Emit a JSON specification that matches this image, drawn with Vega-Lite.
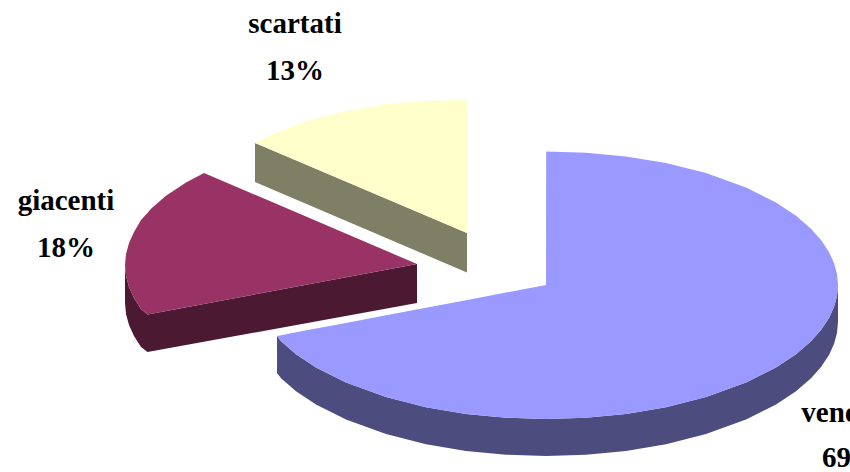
{"$schema":"https://vega.github.io/schema/vega-lite/v6.json","width":850,"height":472,"padding":0,"autosize":{"type":"none"},"background":"white","view":{"stroke":null},"datasets":{"shapes":[
{"part":"venduti lato","x":277,"y":336,"y2":373},{"part":"venduti lato","x":281,"y":341.3,"y2":378.3},{"part":"venduti lato","x":296,"y":354.2,"y2":391.2},{"part":"venduti lato","x":316,"y":367.6,"y2":404.6},{"part":"venduti lato","x":346,"y":382.6,"y2":419.6},{"part":"venduti lato","x":386,"y":397.1,"y2":434.1},{"part":"venduti lato","x":426,"y":407.2,"y2":444.2},{"part":"venduti lato","x":466,"y":413.9,"y2":450.9},{"part":"venduti lato","x":506,"y":417.7,"y2":454.7},{"part":"venduti lato","x":546,"y":419,"y2":456},{"part":"venduti lato","x":586,"y":417.7,"y2":454.7},{"part":"venduti lato","x":626,"y":413.9,"y2":450.9},{"part":"venduti lato","x":666,"y":407.2,"y2":444.2},{"part":"venduti lato","x":706,"y":397.1,"y2":434.1},{"part":"venduti lato","x":746,"y":382.6,"y2":419.6},{"part":"venduti lato","x":776,"y":367.6,"y2":404.6},{"part":"venduti lato","x":796,"y":354.2,"y2":391.2},{"part":"venduti lato","x":811,"y":341.3,"y2":378.3},{"part":"venduti lato","x":821,"y":330.1,"y2":367.1},{"part":"venduti lato","x":829,"y":318,"y2":355},{"part":"venduti lato","x":834,"y":307.1,"y2":344.1},{"part":"venduti lato","x":837,"y":296.1,"y2":333.1},{"part":"venduti lato","x":838,"y":285,"y2":322},
{"part":"venduti","x":277,"y":336,"y2":336},{"part":"venduti","x":281,"y":335.2,"y2":341.3},{"part":"venduti","x":296,"y":332.3,"y2":354.2},{"part":"venduti","x":316,"y":328.6,"y2":367.6},{"part":"venduti","x":346,"y":322.9,"y2":382.6},{"part":"venduti","x":386,"y":315.3,"y2":397.1},{"part":"venduti","x":426,"y":307.7,"y2":407.2},{"part":"venduti","x":466,"y":300.2,"y2":413.9},{"part":"venduti","x":506,"y":292.6,"y2":417.7},{"part":"venduti","x":546,"y":285,"y2":419},{"part":"venduti","x":546.2,"y":151.5,"y2":419},{"part":"venduti","x":586,"y":152.8,"y2":417.7},{"part":"venduti","x":626,"y":156.5,"y2":413.9},{"part":"venduti","x":666,"y":163.1,"y2":407.2},{"part":"venduti","x":706,"y":173.1,"y2":397.1},{"part":"venduti","x":746,"y":187.6,"y2":382.6},{"part":"venduti","x":776,"y":202.5,"y2":367.6},{"part":"venduti","x":796,"y":215.8,"y2":354.2},{"part":"venduti","x":811,"y":228.7,"y2":341.3},{"part":"venduti","x":821,"y":239.9,"y2":330.1},{"part":"venduti","x":829,"y":252,"y2":318},{"part":"venduti","x":834,"y":262.9,"y2":307.1},{"part":"venduti","x":837,"y":273.9,"y2":296.1},{"part":"venduti","x":838,"y":285,"y2":285},
{"part":"giacenti lato","x":125,"y":265,"y2":303},{"part":"giacenti lato","x":126,"y":276,"y2":314},{"part":"giacenti lato","x":129,"y":287,"y2":325},{"part":"giacenti lato","x":134,"y":298,"y2":336},{"part":"giacenti lato","x":141,"y":309,"y2":347},{"part":"giacenti lato","x":147.5,"y":314.5,"y2":352},{"part":"giacenti lato","x":417,"y":264,"y2":303},
{"part":"giacenti","x":125,"y":265,"y2":265},{"part":"giacenti","x":126,"y":253.9,"y2":276},{"part":"giacenti","x":129,"y":242.9,"y2":287},{"part":"giacenti","x":134,"y":232,"y2":298},{"part":"giacenti","x":141,"y":219.9,"y2":309},{"part":"giacenti","x":147.5,"y":212.9,"y2":314.5},{"part":"giacenti","x":151,"y":208.7,"y2":313.9},{"part":"giacenti","x":166,"y":195.8,"y2":311.1},{"part":"giacenti","x":186,"y":182.4,"y2":307.3},{"part":"giacenti","x":204,"y":173,"y2":304},{"part":"giacenti","x":417,"y":264,"y2":264},
{"part":"scartati lato","x":255,"y":143,"y2":182},{"part":"scartati lato","x":467,"y":233,"y2":272.5},
{"part":"scartati","x":255,"y":143,"y2":143},{"part":"scartati","x":267,"y":136.5,"y2":148.1},{"part":"scartati","x":307,"y":120.9,"y2":165.1},{"part":"scartati","x":347,"y":110.8,"y2":182.1},{"part":"scartati","x":387,"y":104.1,"y2":199},{"part":"scartati","x":427,"y":100.8,"y2":216},{"part":"scartati","x":467,"y":100,"y2":233}
],"labels":[
{"testo":"scartati","x":295,"y":33},{"testo":"13%","x":295,"y":80},{"testo":"giacenti","x":66,"y":210},{"testo":"18%","x":66,"y":257},{"testo":"venduti","x":848,"y":422},{"testo":"69%","x":851,"y":467}
]},
"layer":[
{"data":{"name":"shapes"},"mark":{"type":"area","interpolate":"linear","clip":false},"encoding":{
"x":{"field":"x","type":"quantitative","scale":{"domain":[0,850],"nice":false,"zero":false},"axis":null},
"y":{"field":"y","type":"quantitative","scale":{"domain":[472,0],"nice":false,"zero":false},"axis":null,"stack":null},
"y2":{"field":"y2"},
"color":{"field":"part","type":"nominal","legend":null,"scale":{"domain":["venduti","venduti lato","giacenti","giacenti lato","scartati","scartati lato"],"range":["#9999FF","#4C4C7F","#993366","#4C1933","#FFFFCC","#7F7F66"]}}}},
{"data":{"name":"labels"},"mark":{"type":"text","font":"Liberation Serif","fontWeight":"bold","fontSize":29,"align":"center","baseline":"alphabetic","color":"black"},"encoding":{
"x":{"field":"x","type":"quantitative"},"y":{"field":"y","type":"quantitative"},"text":{"field":"testo"}}}
]}
